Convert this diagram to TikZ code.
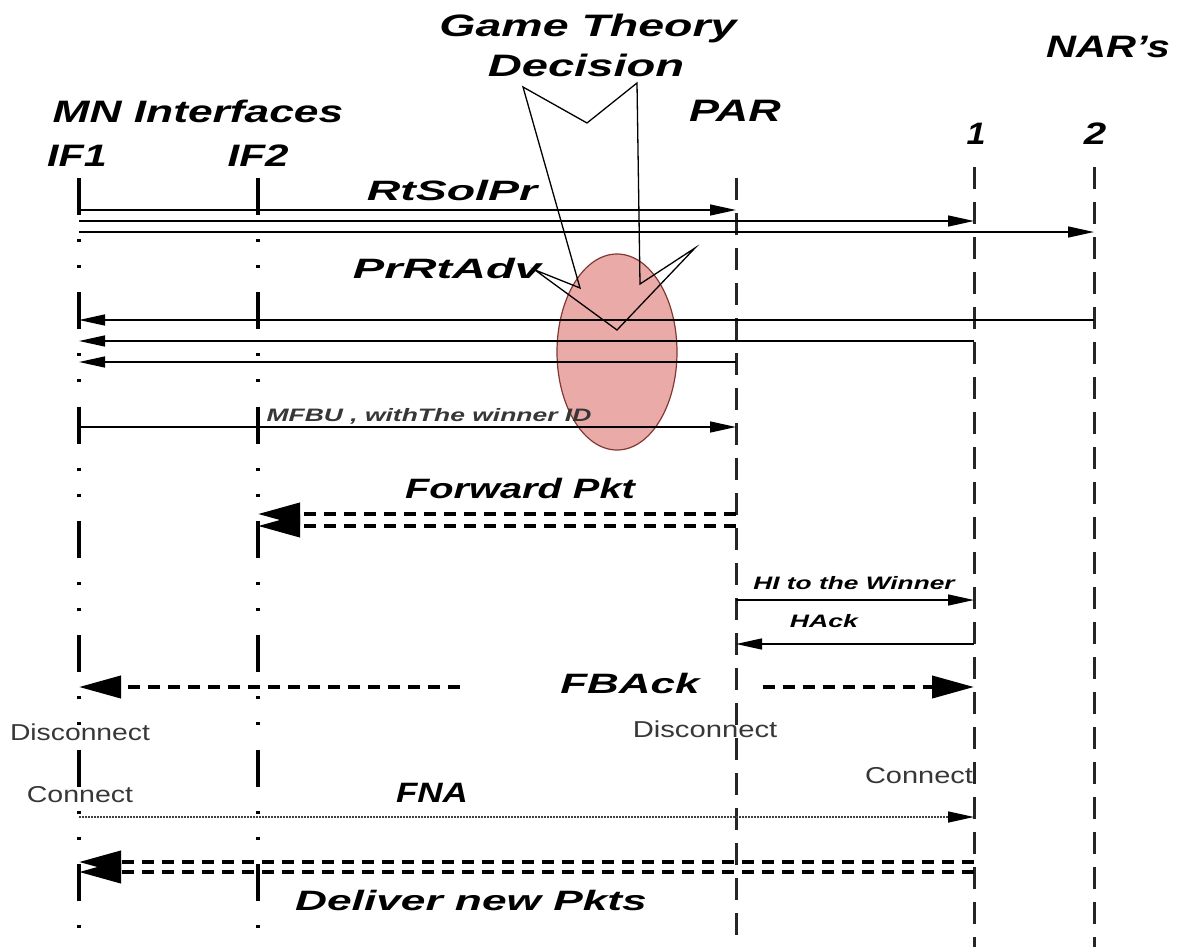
\documentclass[tikz,border=0pt]{standalone}
\usepackage{fontspec}
\setmainfont{Liberation Sans}
\usetikzlibrary{arrows.meta,shapes.geometric}

% horizontally stretched text
\newcommand{\stretchx}[2]{\scalebox{#1}[1]{#2}}

\definecolor{bubble}{RGB}{234,170,168}
\definecolor{bubbleedge}{RGB}{130,55,50}
\definecolor{softgray}{RGB}{55,55,55}

\begin{document}
\begin{tikzpicture}[x=1pt,y=-1pt,
  lab/.style={inner sep=0pt, anchor=base, text=black},
  huge/.style={lab, font=\bfseries\itshape\fontsize{31}{36}\selectfont},
  mid/.style={lab, font=\bfseries\itshape\fontsize{28}{32}\selectfont},
  small/.style={lab, text=softgray, font=\bfseries\itshape\fontsize{18}{22}\selectfont},
  plain/.style={lab, text=softgray, font=\fontsize{23}{27}\selectfont},
  iface/.style={line width=4.5pt, dash pattern=on 37pt off 24pt on 3pt off 23pt on 3pt off 24.3pt},
  router/.style={line width=3pt, draw=black!85, dash pattern=on 22pt off 13pt},
  msg/.style={line width=1.4pt, -{Triangle[length=26pt,width=11pt]}},
  fat/.style={line width=4pt, dash pattern=on 12pt off 8pt},
  fatarrow/.style={fat, -{Triangle[length=42pt,width=22pt]}},
  fna/.style={line width=1.5pt, draw=black!75, dash pattern=on 1.5pt off 1.5pt,
              -{Triangle[length=26pt,width=11pt,fill=black,color=black]}},
  callout/.style={line width=1.3pt, line join=miter}
]
\useasboundingbox (0,0) rectangle (1186,947);

% lifeline tops and the common bottom
\coordinate (IF1) at (79,178);
\coordinate (IF2) at (258,178);
\coordinate (PAR) at (736,178);
\coordinate (N1) at (974,167);
\coordinate (N2) at (1094,167);
\coordinate (bot) at (0,947);

% message rows
\coordinate (r1) at (0,210);
\coordinate (r2) at (0,221);
\coordinate (r3) at (0,232);
\coordinate (r4) at (0,320);
\coordinate (r5) at (0,341);
\coordinate (r6) at (0,362);
\coordinate (r7) at (0,427);
\coordinate (r8) at (0,514);
\coordinate (r9) at (0,526);
\coordinate (r10) at (0,600);
\coordinate (r11) at (0,644);
\coordinate (r12) at (0,687);
\coordinate (r13) at (0,817);
\coordinate (r14) at (0,862);
\coordinate (r15) at (0,872);

% decision bubble
\node (gt) [ellipse, draw=bubbleedge, fill=bubble, line width=1.2pt, inner sep=0pt,
  minimum width=120pt, minimum height=196pt] at (617,352) {};

% lifelines
\draw[iface] (IF1) -- (IF1 |- bot);
\draw[iface] (IF2) -- (IF2 |- bot);
\draw[router] (PAR) -- (PAR |- bot);
\draw[router] (N1) -- (N1 |- bot);
\draw[router] (N2) -- (N2 |- bot);

% headings
\node[huge] (gt1) at (588,37) {\stretchx{1.5}{Game Theory}};
\node[huge] (gt2) at (586,77) {\stretchx{1.52}{Decision}};
\node[huge] (mn) at (198,123) {\stretchx{1.43}{MN Interfaces}};
\node[huge] (lif1) at (77,167) {\stretchx{1.33}{IF1}};
\node[huge] (lif2) at (258,167) {\stretchx{1.36}{IF2}};
\node[huge] (lpar) at (735,122) {\stretchx{1.45}{PAR}};
\node[huge] (lnar) at (1108,58) {\stretchx{1.34}{NAR’s}};
\node[huge] (ln1) at (976,145) {\stretchx{1.1}{1}};
\node[huge] (ln2) at (1095,145) {\stretchx{1.3}{2}};

% pointers from the decision label
\draw[callout] (523,87) -- (580,288) -- (535,270) -- (617,330) -- (695,248)
  -- (640,284) -- (637,83) -- (587,123) -- cycle;

% router solicitation
\node[mid] (lsol) at (452,200) {\stretchx{1.66}{RtSolPr}};
\draw[msg] (IF1 |- r1) -- (PAR |- r1);
\draw[msg] (IF1 |- r2) -- (N1 |- r2);
\draw[msg] (IF1 |- r3) -- (N2 |- r3);

% router advertisements
\node[mid] (ladv) at (447,278) {\stretchx{1.68}{PrRtAdv}};
\draw[msg] (N2 |- r4) -- (IF1 |- r4);
\draw[msg] (N1 |- r5) -- (IF1 |- r5);
\draw[msg] (PAR |- r6) -- (IF1 |- r6);

% binding update
\node[small] (lmfbu) at (429,421) {\stretchx{1.47}{MFBU , withThe winner ID}};
\draw[msg] (IF1 |- r7) -- (PAR |- r7);

% forwarded packets
\node[mid] (lfwd) at (520,498) {\stretchx{1.42}{Forward Pkt}};
\draw[fatarrow] (PAR |- r8) -- (IF2 |- r8);
\draw[fatarrow] (PAR |- r9) -- (IF2 |- r9);

% handover initiation
\node[small, text=black] (lhi) at (854,589) {\stretchx{1.46}{HI to the Winner}};
\draw[msg] (PAR |- r10) -- (N1 |- r10);
\node[small, text=black] (lhack) at (824,627) {\stretchx{1.48}{HAck}};
\draw[msg] (N1 |- r11) -- (PAR |- r11);

% fast binding acknowledgement
\coordinate (fbL) at (460,687);
\coordinate (fbR) at (763,687);
\node[mid] (lfb) at (630,693) {\stretchx{1.57}{FBAck}};
\draw[fatarrow] (fbL) -- (IF1 |- r12);
\draw[fatarrow] (fbR) -- (N1 |- r12);

% link events
\node[plain] (dc1) at (80,740) {\stretchx{1.23}{Disconnect}};
\node[plain] (dc2) at (705,737) {\stretchx{1.27}{Disconnect}};
\node[plain] (cn1) at (919,783) {\stretchx{1.26}{Connect}};
\node[plain] (cn2) at (80,802) {\stretchx{1.24}{Connect}};

% neighbour advertisement
\node[mid] (lfna) at (432,802) {\stretchx{1.25}{FNA}};
\draw[fna] (IF1 |- r13) -- (N1 |- r13);

% delivery of buffered packets
\draw[fatarrow] (N1 |- r14) -- (IF1 |- r14);
\draw[fatarrow] (N1 |- r15) -- (IF1 |- r15);
\node[mid] (ldel) at (471,910) {\stretchx{1.58}{Deliver new Pkts}};

\end{tikzpicture}
\end{document}
